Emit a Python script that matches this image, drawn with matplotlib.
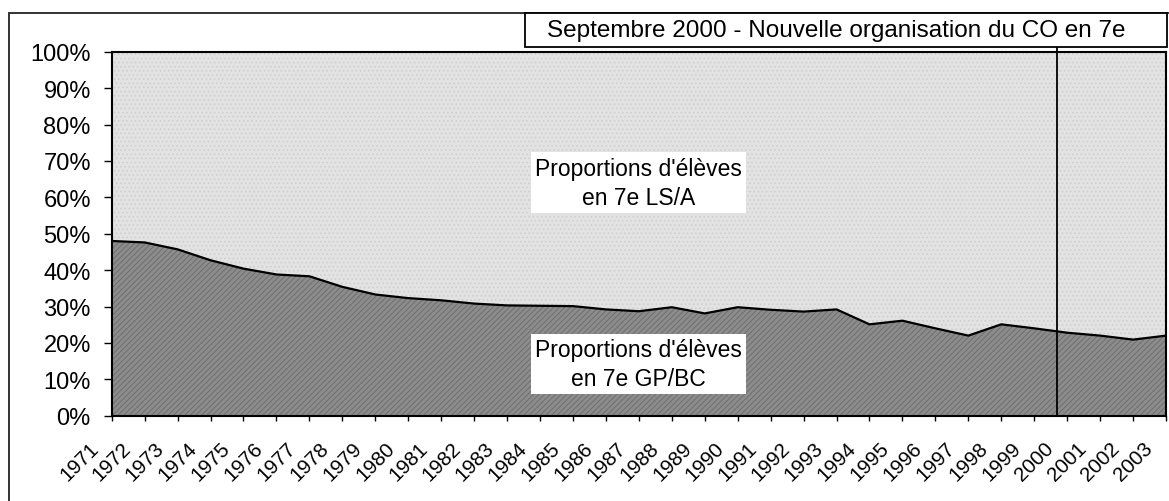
import matplotlib
matplotlib.use("Agg")
import matplotlib.pyplot as plt
import matplotlib.transforms as mtransforms
from matplotlib.patches import Rectangle
import numpy as np

plt.rcParams['font.family'] = ['Liberation Sans', 'DejaVu Sans']
plt.rcParams['hatch.linewidth'] = 0.6

# data (share of pupils in GP/BC, %)
years = list(range(1971, 2004))
gp_bc = [48.0, 47.6, 45.7, 42.7, 40.4, 38.8, 38.3, 35.4, 33.3, 32.3,
         31.7, 30.8, 30.3, 30.2, 30.1, 29.2, 28.7, 29.8, 28.1, 29.8,
         29.1, 28.6, 29.2, 25.1, 26.1, 24.0, 22.0, 25.1, 24.0, 22.8,
         22.0, 20.9, 22.0]
ls_a = [100 - v for v in gp_bc]
y_ticks = [0, 10, 20, 30, 40, 50, 60, 70, 80, 90, 100]
reform_year = 1999.7
title = "Septembre 2000 - Nouvelle organisation du CO en 7e"
label_top = "Proportions d'élèves\nen 7e LS/A"
label_bottom = "Proportions d'élèves\nen 7e GP/BC"

W, H = 1169, 502
fig = plt.figure(figsize=(W / 100, H / 100), dpi=100)
ax = fig.add_axes([111.7 / W, 1 - 416.7 / H, (1166 - 111.7) / W, (416.7 - 52.7) / H])

x = np.array(years)
low = np.array(gp_bc)
high = low + np.array(ls_a)

ax.fill_between(x, 0, low, facecolor='#8c8c8c', edgecolor='#6a6a6a', hatch='//////', linewidth=0)
ax.fill_between(x, low, high, facecolor='#e2e2e2', edgecolor='#cdcdcd', hatch='....', linewidth=0)
ax.plot(x, low, color='black', linewidth=1.6)

ax.set_xlim(years[0], years[-1])
ax.set_ylim(0, 100)

ax.set_yticks(y_ticks)
ax.set_yticklabels([f"{t}%" for t in y_ticks])
ax.set_xticks(years)
ax.set_xticklabels([str(y) for y in years], rotation=45, ha='right', va='top', rotation_mode='anchor')

ax.tick_params(axis='y', length=6, width=1, pad=9, labelsize=17, direction='out')
ax.tick_params(axis='x', length=3.6, width=1, pad=12.5, labelsize=14.8, direction='out')

# shift the rotated year labels left (after tick_params, which resets transforms)
offset = mtransforms.ScaledTranslation(-23 / 100, 0, fig.dpi_scale_trans)
for lbl in ax.get_xticklabels():
    lbl.set_transform(lbl.get_transform() + offset)

for sp in ax.spines.values():
    sp.set_linewidth(1.5)
    sp.set_color('black')

# reform line, goes up to the title box
ax.plot([reform_year, reform_year], [0, 101.6], color='black', linewidth=1.3, clip_on=False, zorder=5)

box = dict(facecolor='white', edgecolor='none', pad=3)
ax.text(1987.0, 64.0, label_top, ha='center', va='center', fontsize=16.5, linespacing=1.35, bbox=box)
ax.text(1987.0, 14.2, label_bottom, ha='center', va='center', fontsize=16.5, linespacing=1.35, bbox=box)

# outer chart frame
fig.patches.append(Rectangle((9 / W, -0.1), 1.2, 1 - 14 / H + 0.1, transform=fig.transFigure,
                             fill=False, edgecolor='#333333', linewidth=1.4))
# title box
fig.patches.append(Rectangle((525 / W, 1 - 48 / H), (1167 - 525) / W, 34 / H, transform=fig.transFigure,
                             facecolor='white', edgecolor='black', linewidth=1.3, zorder=3))
fig.text(836 / W, 1 - 31 / H, title, ha='center', va='center', fontsize=17.5, zorder=4)

fig.savefig("out.png", dpi=100)
